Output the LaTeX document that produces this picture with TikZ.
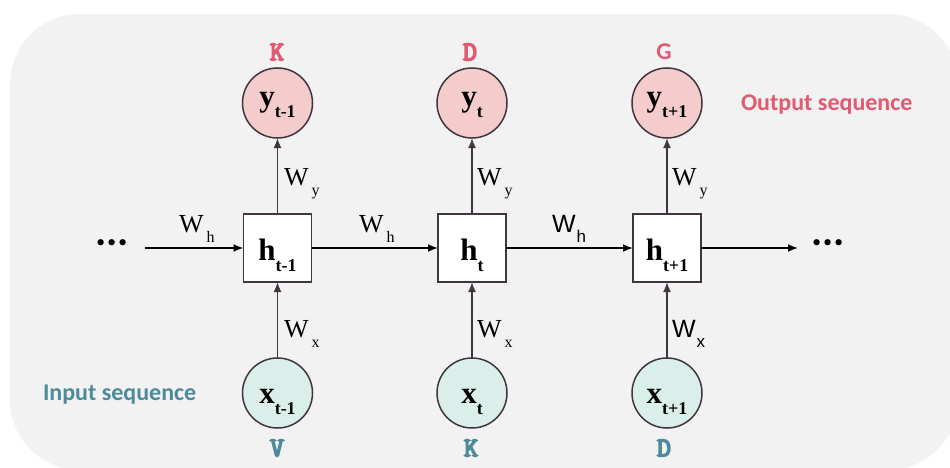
\documentclass[tikz,border=0pt]{standalone}
\usepackage{fontspec}
\setmainfont{Liberation Serif}
\newfontfamily\calib{Carlito}
\newfontfamily\arial{Liberation Sans}
\newfontfamily\cour[FakeBold=6]{Latin Modern Mono}
\usetikzlibrary{arrows.meta}
\definecolor{bgc}{HTML}{F2F2F2}
\definecolor{pinkf}{HTML}{F4CCCC}
\definecolor{tealf}{HTML}{DAEFEA}
\definecolor{edgec}{HTML}{41353F}
\definecolor{outc}{HTML}{E05A70}
\definecolor{inc}{HTML}{4F8A9B}
\newcommand{\mainsub}[2]{{\fontsize{31}{31}\selectfont\bfseries #1}\raisebox{-11pt}{\fontsize{18}{18}\selectfont\bfseries #2}}
\newcommand{\wser}[1]{{\fontsize{26}{26}\selectfont W}\hspace{3pt}\raisebox{-10pt}{\fontsize{16}{16}\selectfont #1}}
\newcommand{\wsan}[1]{{\arial\fontsize{25}{25}\selectfont W}\hspace{1pt}\raisebox{-10pt}{\arial\fontsize{17}{17}\selectfont #1}}
\tikzset{
  every node/.style={inner sep=0pt, outer sep=0pt},
  ycirc/.style={circle, draw=edgec, line width=1.5pt, fill=pinkf, minimum size=70pt, text height=16pt, text depth=8pt},
  xcirc/.style={circle, draw=edgec, line width=1.5pt, fill=tealf, minimum size=70pt, text height=22pt, text depth=2pt},
  hbox/.style={rectangle, draw=edgec, line width=1.5pt, fill=white, minimum width=68pt, minimum height=68pt, text height=26pt, text depth=2pt},
  varr/.style={draw=edgec, line width=1.8pt, -{Latex[length=10pt,width=8pt]}},
  harr/.style={draw=black, line width=1.8pt, -{Latex[length=10pt,width=8pt]}},
  wlab/.style={anchor=base west},
  toplab/.style={text=outc, font=\cour\fontsize{27}{27}\selectfont},
  botlab/.style={text=inc, font=\cour\fontsize{27}{27}\selectfont},
  seqlab/.style={font=\calib\bfseries\fontsize{24}{24}\selectfont},
  dots/.style={font=\calib\bfseries\fontsize{42}{42}\selectfont}
}
\begin{document}
\begin{tikzpicture}[x=1pt,y=-1pt]
\useasboundingbox (0,0) rectangle (950,468);
\fill[bgc, rounded corners=70pt] (10,14) rectangle (958,470);

% hidden state boxes
\node[hbox] (h1) at (277.5,248) {\mainsub{h}{t-1}};
\node[hbox] (h2) at (472,248) {\mainsub{h}{t}};
\node[hbox] (h3) at (667,248) {\mainsub{h}{t+1}};

% outputs
\node[ycirc] (y1) at (277.5,103) {\mainsub{y}{t-1}};
\node[ycirc] (y2) at (472,103) {\mainsub{y}{t}};
\node[ycirc] (y3) at (667,103) {\mainsub{y}{t+1}};

% inputs
\node[xcirc] (x1) at (277.5,393) {\mainsub{x}{t-1}};
\node[xcirc] (x2) at (472,393) {\mainsub{x}{t}};
\node[xcirc] (x3) at (667,393) {\mainsub{x}{t+1}};

% dots and free ends
\node[dots] (dl) at (112,243) {...};
\node[dots] (dr) at (828,243) {...};
\coordinate (lin) at (145,248);
\coordinate (rout) at (798,248);

% arrows
\draw[harr] (lin) -- (h1.west);
\draw[harr] (h1.east) -- (h2.west);
\draw[harr] (h2.east) -- (h3.west);
\draw[harr] (h3.east) -- (rout);
\foreach \i in {1,2,3}{
  \draw[varr] (h\i.north) -- (y\i.south);
  \draw[varr] (x\i.north) -- (h\i.south);
}

% weight labels
\node[wlab] (wh0) at (179,232) {\wser{h}};
\node[wlab] (wh1) at (359,232) {\wser{h}};
\node[wlab] (wh2) at (552,232) {\wsan{h}};
\node[wlab] (wy1) at (284,185) {\wser{y}};
\node[wlab] (wy2) at (477,185) {\wser{y}};
\node[wlab] (wy3) at (672,185) {\wser{y}};
\node[wlab] (wx1) at (284,337) {\wser{x}};
\node[wlab] (wx2) at (477,337) {\wser{x}};
\node[wlab] (wx3) at (672,337) {\wsan{x}};

% sequence letters
\node[toplab] (k1) at (277,52) {K};
\node[toplab] (d1) at (470,52) {D};
\node[text=outc, font=\calib\bfseries\fontsize{24}{24}\selectfont] (g1) at (664,52) {G};
\node[botlab] (v2) at (277,448) {V};
\node[botlab] (k2) at (471,448) {K};
\node[botlab] (d2) at (664,448) {D};

% sequence captions
\node[seqlab, text=outc, anchor=west] (outs) at (741,105) {Output sequence};
\node[seqlab, text=inc, anchor=west] (ins) at (43,395) {Input sequence};
\end{tikzpicture}
\end{document}
